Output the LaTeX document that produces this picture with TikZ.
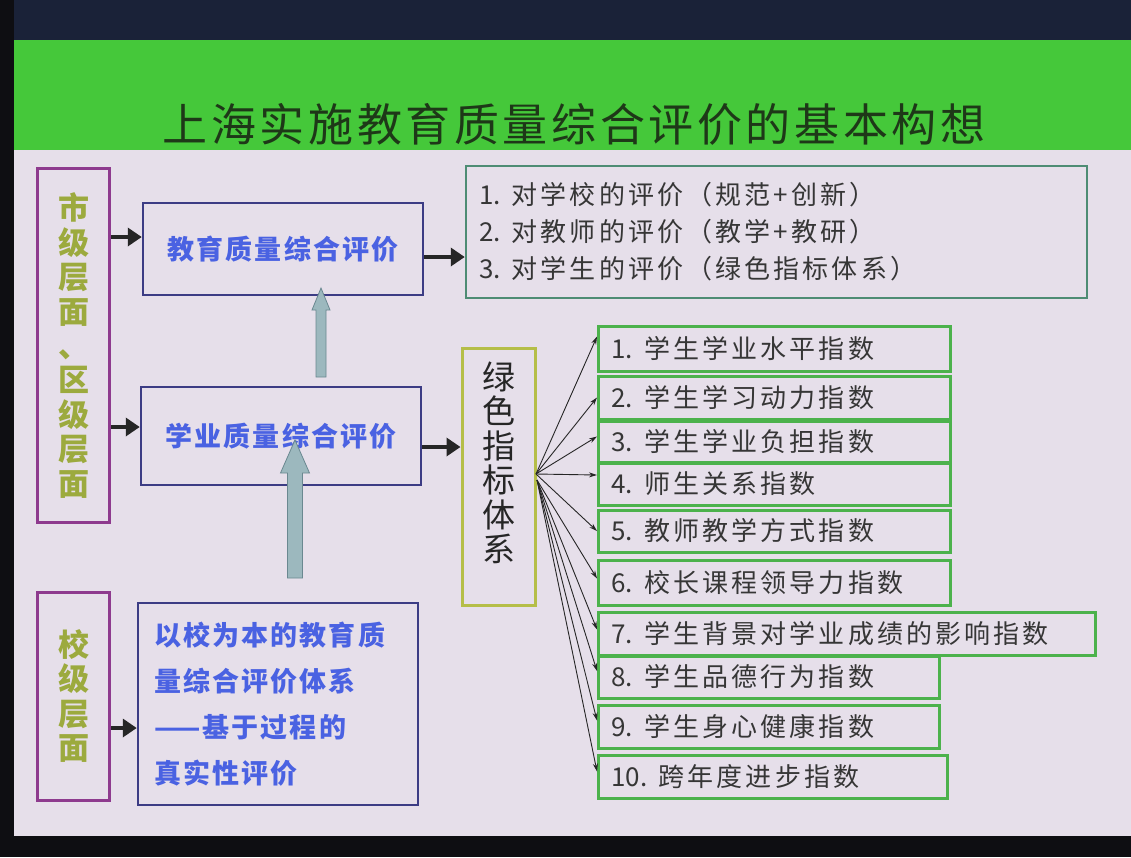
\documentclass[tikz,border=0pt]{standalone}
\usepackage{fontspec}
\usetikzlibrary{arrows.meta,calc}
\newfontfamily\cjk[LetterSpace=8]{Noto Sans CJK SC}
\newfontfamily\cjkg[LetterSpace=12]{Noto Sans CJK SC}
\newfontfamily\cjkn{Noto Sans CJK SC}
\newcommand\idxnum[1]{{\cjkn #1}\hspace{11pt}}
\definecolor{bgdark}{HTML}{0E0E12}
\definecolor{topdark}{HTML}{1A2238}
\definecolor{slide}{HTML}{E6DFEA}
\definecolor{band}{HTML}{45C83A}
\definecolor{titlec}{HTML}{1E3818}
\definecolor{purp}{HTML}{8E3A8E}
\definecolor{olive}{HTML}{9CAA3E}
\definecolor{navy}{HTML}{3C3C84}
\definecolor{bluet}{HTML}{4A62E2}
\definecolor{tealg}{HTML}{4E8C74}
\definecolor{ygreen}{HTML}{B5BE48}
\definecolor{idxg}{HTML}{4CB24C}
\definecolor{greyt}{HTML}{363636}
\definecolor{barrow}{HTML}{9CB8BE}
\definecolor{barrowd}{HTML}{6A8890}
\tikzset{
  lvl/.style={draw=purp, line width=3pt, inner sep=0pt, text=olive, align=center,
    font=\cjkn\bfseries\fontsize{31}{34.4}\selectfont},
  mainbox/.style={draw=navy, line width=2.5pt, inner sep=0pt, text=bluet,
    font=\cjk\bfseries\fontsize{27}{30}\selectfont},
  evalbox/.style={draw=tealg, line width=2.5pt, inner sep=0pt, text=greyt, align=left,
    font=\cjkg\fontsize{26}{37}\selectfont},
  sysbox/.style={draw=ygreen, line width=3pt, inner sep=0pt},
  systxt/.style={text=black!85, align=center, inner sep=0pt,
    font=\cjkn\fontsize{33}{34.5}\selectfont},
  idx/.style={draw=idxg, line width=3pt, inner sep=0pt, anchor=west, text=greyt, align=left,
    font=\cjkg\fontsize{26}{30}\selectfont},
  bigarr/.style={draw=black!85, line width=4.5pt, -{Triangle[length=14pt,width=18pt]}},
  fanarr/.style={draw=black!85, line width=0.9pt, -{Stealth[length=8pt,width=5pt]}},
  blockarr/.style={fill=barrow, draw=barrowd, line width=0.8pt}
}
\begin{document}
\begin{tikzpicture}[x=1pt,y=-1pt]
\useasboundingbox (0,0) rectangle (1131,857);
\fill[bgdark] (0,0) rectangle (1131,857);
\fill[topdark] (14,0) rectangle (1131,42);
\fill[slide] (14,40) rectangle (1131,836);
\fill[band] (14,40) rectangle (1131,150);
\node[text=titlec, font=\cjk\fontsize{45}{50}\selectfont] (title) at (574,124) {上海实施教育质量综合评价的基本构想};

% left level boxes
\node[lvl, minimum width=72pt, minimum height=354pt] (lvA) at (73.5,345.5) {市\\级\\层\\面\\、\\区\\级\\层\\面};
\node[lvl, minimum width=72pt, minimum height=208pt] (lvB) at (73.5,696) {校\\级\\层\\面};

% main boxes
\node[mainbox, minimum width=280pt, minimum height=92pt] (edu) at (283,249) {教育质量综合评价};
\node[mainbox, minimum width=280pt, minimum height=98pt] (stu) at (281,436) {学业质量综合评价};
\node[mainbox, minimum width=280pt, minimum height=202pt, align=left, text width=248pt,
  font=\cjk\bfseries\fontsize{27}{46}\selectfont] (sch) at (278,704)
  {以校为本的教育质\\量综合评价体系\\——基于过程的\\真实性评价};

% evaluation box
\node[evalbox, minimum width=621pt, minimum height=132pt, text width=595pt] (ev) at (776.5,232)
  {\idxnum{1.}对学校的评价（规范+创新）\\\idxnum{2.}对教师的评价（教学+教研）\\\idxnum{3.}对学生的评价（绿色指标体系）};

% green indicator system
\node[sysbox, minimum width=73pt, minimum height=257pt] (gsys) at (498.5,476.5) {};
\node[systxt] (gsyst) at (498.5,463) {绿\\色\\指\\标\\体\\系};

% index boxes
\node[idx, minimum width=352pt, minimum height=45pt, text width=326pt] (b1) at (597,348.5) {\idxnum{1.}学生学业水平指数};
\node[idx, minimum width=352pt, minimum height=43pt, text width=326pt] (b2) at (597,397.5) {\idxnum{2.}学生学习动力指数};
\node[idx, minimum width=352pt, minimum height=41pt, text width=326pt] (b3) at (597,441.5) {\idxnum{3.}学生学业负担指数};
\node[idx, minimum width=352pt, minimum height=42pt, text width=326pt] (b4) at (597,484) {\idxnum{4.}师生关系指数};
\node[idx, minimum width=352pt, minimum height=42pt, text width=326pt] (b5) at (597,531) {\idxnum{5.}教师教学方式指数};
\node[idx, minimum width=352pt, minimum height=45pt, text width=326pt] (b6) at (597,582.5) {\idxnum{6.}校长课程领导力指数};
\node[idx, minimum width=497pt, minimum height=43pt, text width=471pt] (b7) at (597,633.5) {\idxnum{7.}学生背景对学业成绩的影响指数};
\node[idx, minimum width=341pt, minimum height=42pt, text width=315pt] (b8) at (597,677) {\idxnum{8.}学生品德行为指数};
\node[idx, minimum width=341pt, minimum height=43pt, text width=315pt] (b9) at (597,726.5) {\idxnum{9.}学生身心健康指数};
\node[idx, minimum width=349pt, minimum height=43pt, text width=323pt] (b10) at (597,776.5) {\idxnum{10.}跨年度进步指数};

% big black arrows
\coordinate (yA) at (0,237);
\coordinate (yB) at (0,427);
\coordinate (yC) at (0,257);
\coordinate (yD) at (0,447);
\coordinate (yE) at (0,728);
\draw[bigarr] (lvA.east |- yA) -- (edu.west |- yA);
\draw[bigarr] (lvA.east |- yB) -- (stu.west |- yB);
\draw[bigarr] (edu.east |- yC) -- (ev.west |- yC);
\draw[bigarr] (stu.east |- yD) -- (gsys.west |- yD);
\draw[bigarr] (lvB.east |- yE) -- (sch.west |- yE);

% fan arrows
\coordinate (fanA) at (536,474);
\coordinate (fanB) at (537,480);
\draw[fanarr] (fanA) -- ([yshift=12pt]b1.west);
\draw[fanarr] (fanA) -- (b2.west);
\draw[fanarr] (fanA) -- ([yshift=5pt]b3.west);
\draw[fanarr] (fanA) -- ([yshift=9pt]b4.west);
\draw[fanarr] (fanA) -- (b5.west);
\draw[fanarr] (fanB) -- ([yshift=4pt]b6.west);
\draw[fanarr] (fanB) -- ([yshift=4pt]b7.west);
\draw[fanarr] (fanB) -- ([yshift=6pt]b8.west);
\draw[fanarr] (fanB) -- ([yshift=6pt]b9.west);
\draw[fanarr] (fanB) -- ([yshift=5pt]b10.west);

% block arrows (light blue-grey)
\filldraw[blockarr] (321,288) -- (330,310) -- (326,310) -- (326,377) -- (316,377) -- (316,310) -- (312,310) -- cycle;
\filldraw[blockarr] (295,440) -- (309.5,473) -- (302.5,473) -- (302.5,578) -- (287.5,578) -- (287.5,473) -- (280.5,473) -- cycle;
\end{tikzpicture}
\end{document}
